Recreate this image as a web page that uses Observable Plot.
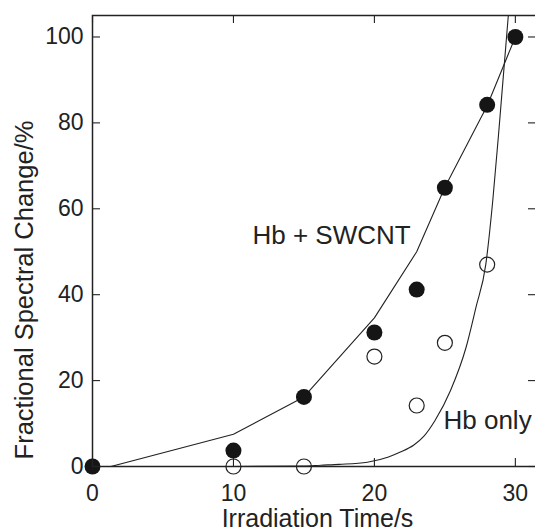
<!DOCTYPE html>
<html>
<head>
<meta charset="utf-8">
<script src="https://cdn.jsdelivr.net/npm/d3@7"></script>
<script src="https://cdn.jsdelivr.net/npm/@observablehq/plot@0.6"></script>
<style>
  html, body { margin: 0; padding: 0; background: #fff; }
</style>
</head>
<body>
<div id="chart"></div>
<script>
// Measured points
const swcntTime = [0, 10, 15, 20, 23, 25, 28, 30];
const swcntValue = [0, 3.7, 16.2, 31.2, 41.2, 64.9, 84.2, 100];
const hbTime = [10, 15, 20, 23, 25, 28];
const hbValue = [0, 0, 25.6, 14.2, 28.8, 47];

// Fitted curves
const swcntCurveT = [0, 1.3, 10, 15, 20, 23, 25, 28, 30];
const swcntCurveV = [0, 0, 7.5, 16.2, 34.6, 50, 65, 84, 100];
const hbCurveT = [0, 10, 15, 16.2, 17.5, 19.5, 21, 21.8, 22.8, 23.5, 24.3, 25.4, 26.5, 27.2, 27.9, 28.4, 28.8, 29.0, 29.5];
const hbCurveV = [0, 0, 0.1, 0.3, 0.5, 1, 2.2, 3.3, 5, 7, 10.7, 17.7, 27.7, 37, 47, 62, 77, 85, 105];

const xTicks = [0, 10, 20, 30];
const yTicks = [0, 20, 40, 60, 80, 100];
const labels = [
  {t: 11.35, v: 51.9, text: "Hb + SWCNT"},
  {t: 24.9, v: 8.8, text: "Hb only"}
];

const zip = (a, b) => a.map((x, i) => ({t: x, v: b[i]}));
const swcnt = zip(swcntTime, swcntValue);
const hb = zip(hbTime, hbValue);
const swcntCurve = zip(swcntCurveT, swcntCurveV);
const hbCurve = zip(hbCurveT, hbCurveV);

const L = 92, R = 536, T = 15, B = 466;
const W = R - L, H = B - T;
const ink = "#222";

const chart = Plot.plot({
  width: 535,
  height: 531,
  marginLeft: L,
  marginTop: T,
  marginBottom: 531 - B,
  marginRight: 535 - R,
  style: {fontFamily: "'Liberation Sans', Arial, Helvetica, sans-serif", color: ink, background: "#fff"},
  x: {domain: [0, 31.5], range: [L, R]},
  y: {domain: [0, 105], range: [B, T]},
  marks: [
    Plot.line(swcntCurve, {x: "t", y: "v", stroke: ink, strokeWidth: 1.1, clip: true}),
    Plot.line(hbCurve, {x: "t", y: "v", stroke: ink, strokeWidth: 1.1, curve: "monotone-x", clip: true}),
    Plot.dot(hb, {x: "t", y: "v", r: 7.5, fill: "none", stroke: ink, strokeWidth: 1.2}),
    Plot.dot(swcnt, {x: "t", y: "v", r: 8, fill: "#151515", stroke: "none"}),
    Plot.tickX(xTicks, {x: d => d, insetTop: H - 8, stroke: ink, strokeWidth: 1.1}),
    Plot.tickX(xTicks, {x: d => d, insetBottom: H - 8, stroke: ink, strokeWidth: 1.1}),
    Plot.tickY(yTicks, {y: d => d, insetRight: W - 8, stroke: ink, strokeWidth: 1.1}),
    Plot.tickY(yTicks, {y: d => d, insetLeft: W - 8, stroke: ink, strokeWidth: 1.1}),
    Plot.frame({stroke: ink, strokeWidth: 1.5}),
    Plot.axisX({ticks: xTicks, tickSize: 0, tickPadding: 18, fontSize: 23, label: null, tickFormat: d => String(d)}),
    Plot.axisY({ticks: yTicks, tickSize: 0, tickPadding: 9, fontSize: 23, label: null, tickFormat: d => String(d)}),
    Plot.text(["Irradiation Time/s"], {frameAnchor: "bottom", dx: 3, dy: 60, textAnchor: "middle", lineAnchor: "bottom", fontSize: 25, fill: ink}),
    Plot.text(["Fractional Spectral Change/%"], {frameAnchor: "left", rotate: -90, dx: -68, dy: 49, textAnchor: "middle", lineAnchor: "middle", fontSize: 25.5, fill: ink}),
    Plot.text(labels, {x: "t", y: "v", text: "text", textAnchor: "start", lineAnchor: "bottom", fontSize: 26, fill: ink})
  ]
});
document.getElementById("chart").appendChild(chart);
</script>
</body>
</html>
